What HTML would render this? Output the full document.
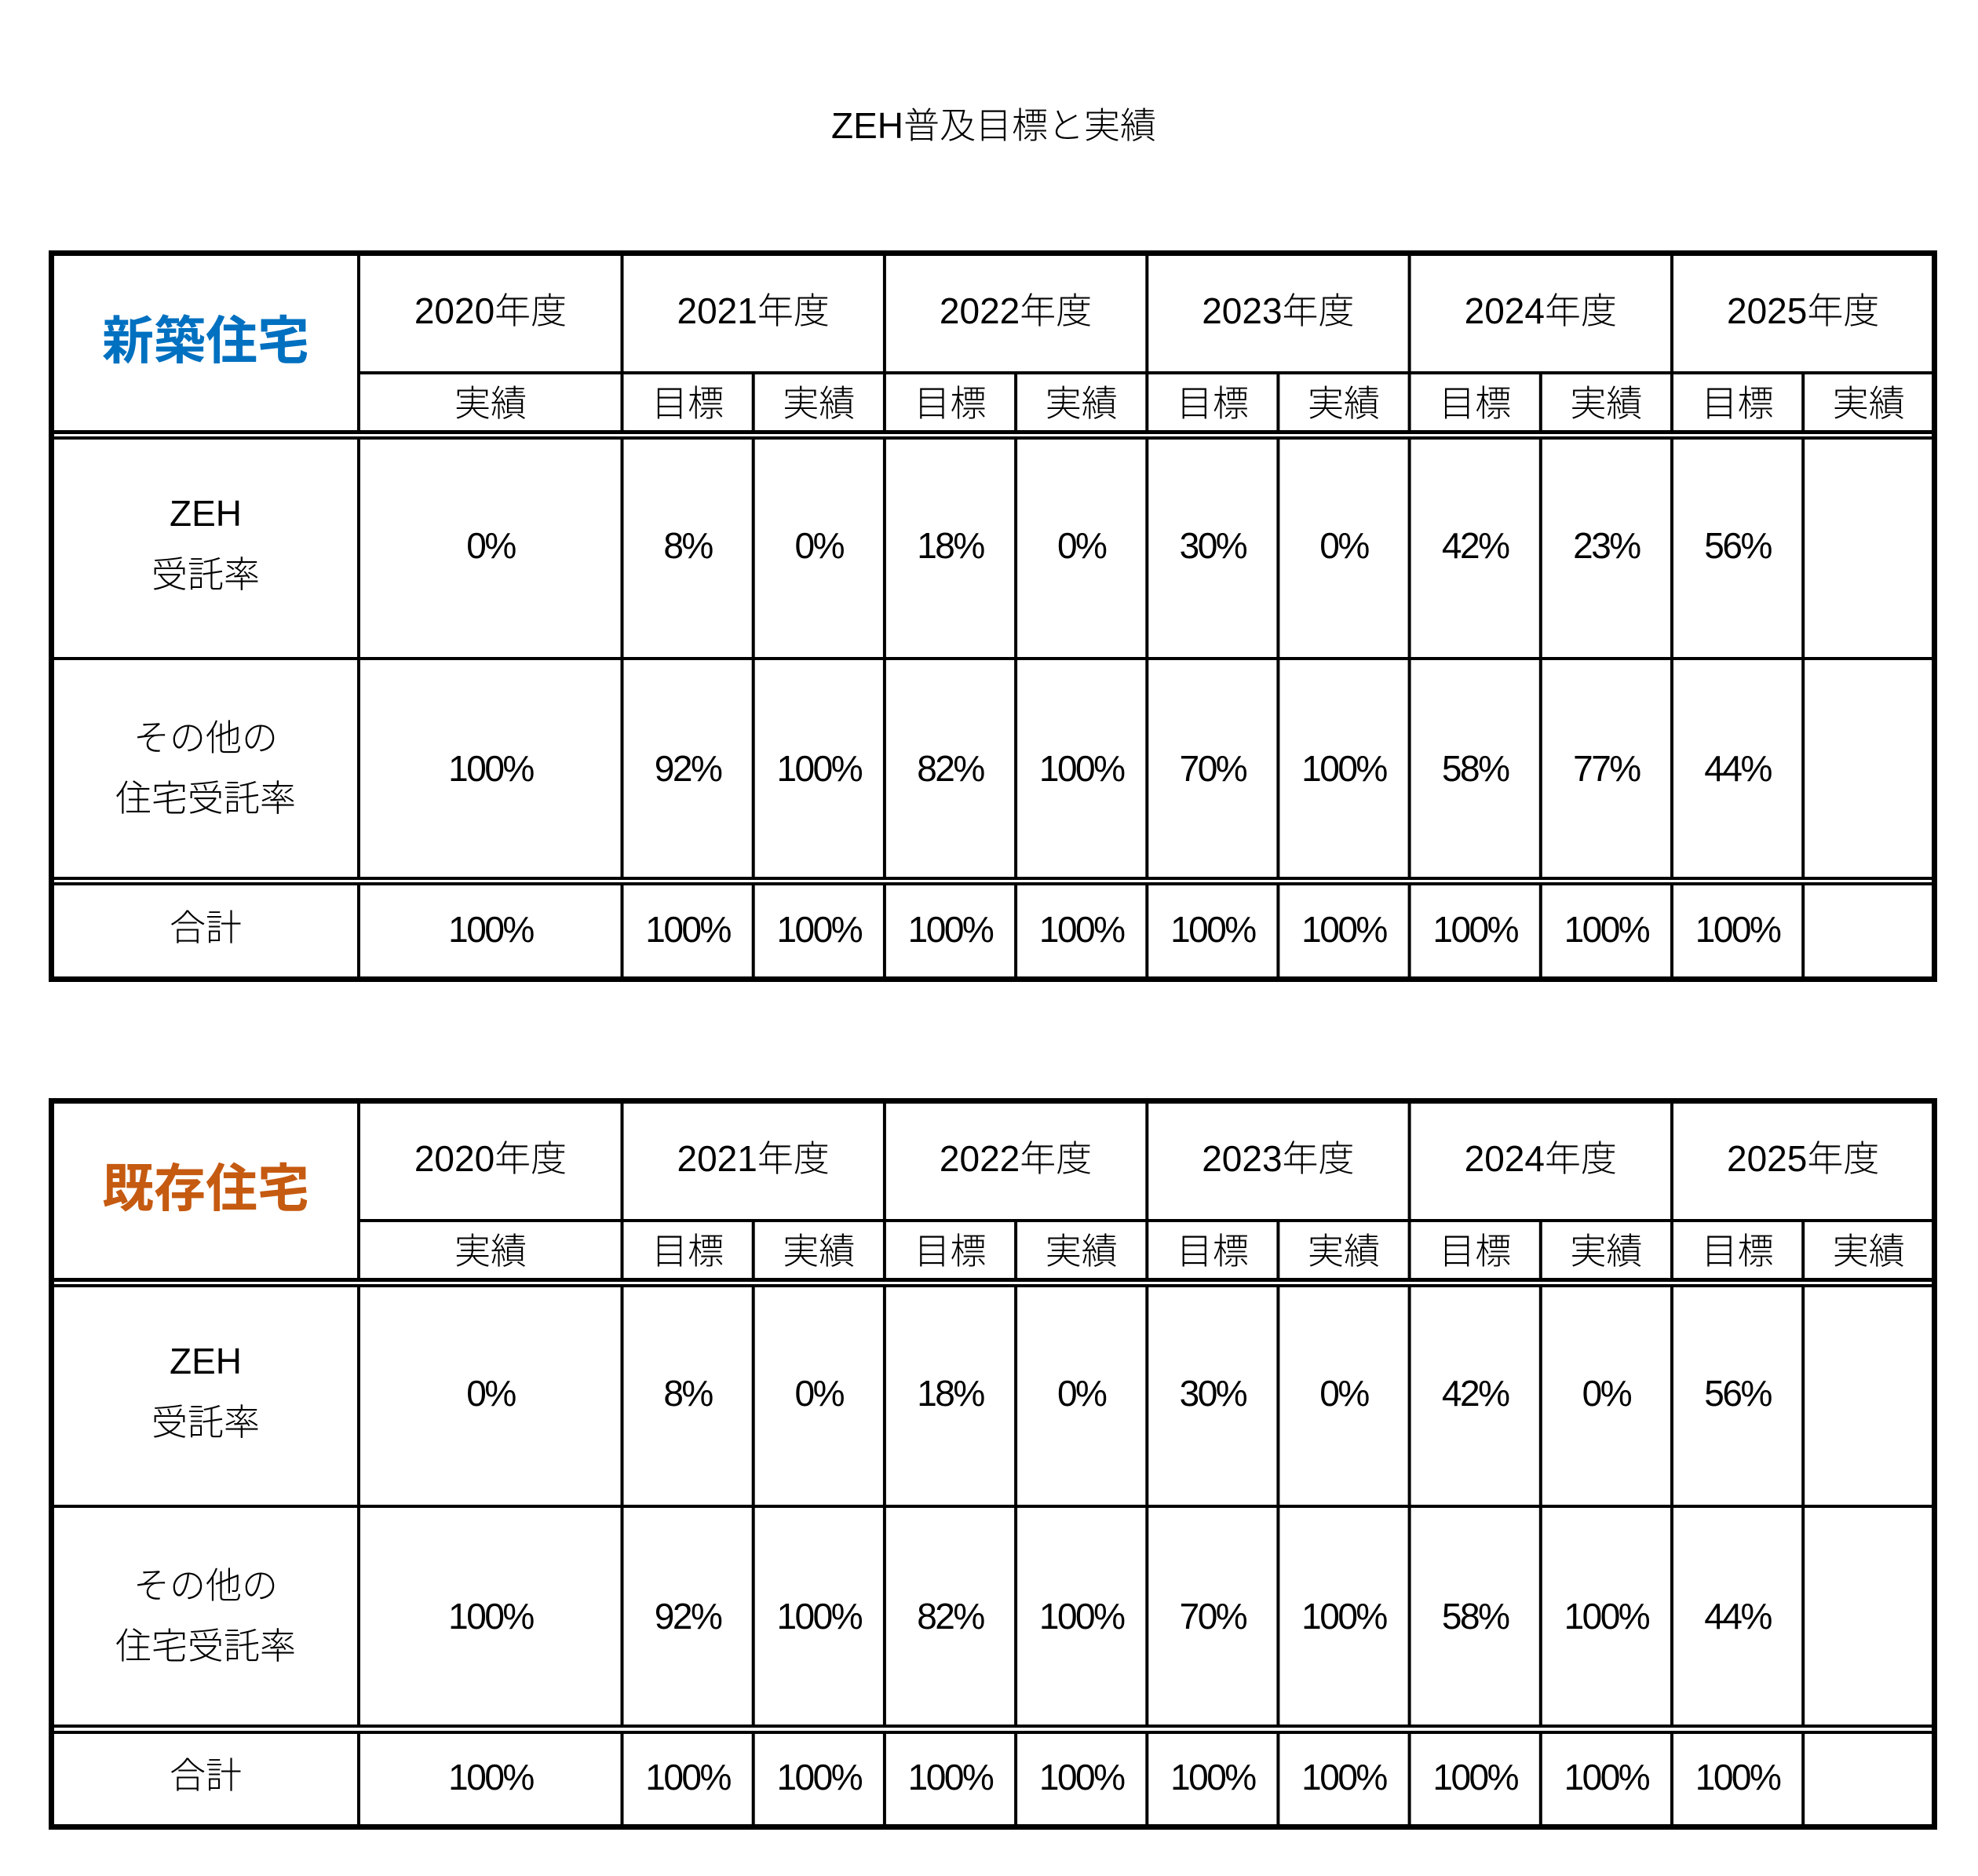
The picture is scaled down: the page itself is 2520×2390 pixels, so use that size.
<!DOCTYPE html>
<html lang="ja">
<head>
<meta charset="utf-8">
<style>
  html,body{margin:0;padding:0;background:#fff;}
  svg{display:block;}
  text{font-family:"Liberation Sans","Noto Sans CJK JP",sans-serif;font-size:46px;font-weight:300;fill:#000;text-anchor:middle;dominant-baseline:central;}
  text.n{letter-spacing:-2.5px;}
  text.h{font-size:66px;font-weight:700;letter-spacing:0;}
</style>
</head>
<body>
<svg width="2520" height="2390" viewBox="0 0 2520 2390" xmlns="http://www.w3.org/2000/svg">
<rect x="0" y="0" width="2520" height="2390" fill="#fff"/>
<text x="1266" y="160">ZEH普及目標と実績</text>

<!-- ===== TABLE 1 ===== -->
<g>
  <g fill="#000">
    <!-- outer frame -->
    <rect x="62" y="319" width="2406" height="7"/>
    <rect x="62" y="1244" width="2406" height="7"/>
    <rect x="62" y="319" width="7" height="932"/>
    <rect x="2461" y="319" width="7" height="932"/>
    <!-- header split -->
    <rect x="457" y="473" width="2004" height="4"/>
    <!-- double line 1 -->
    <rect x="69" y="548" width="2392" height="5"/>
    <rect x="69" y="556" width="2392" height="4"/>
    <!-- row line -->
    <rect x="69" y="837" width="2392" height="4"/>
    <!-- double line 2 -->
    <rect x="69" y="1117" width="2392" height="4"/>
    <rect x="69" y="1124" width="2392" height="4"/>
    <!-- vertical lines header (full header height) -->
    <rect x="455" y="326" width="4" height="222"/>
    <rect x="790.5" y="326" width="4" height="222"/>
    <rect x="1124.9" y="326" width="4" height="222"/>
    <rect x="1459.3" y="326" width="4" height="222"/>
    <rect x="1793.6" y="326" width="4" height="222"/>
    <rect x="2128" y="326" width="4" height="222"/>
    <!-- sub column lines in header -->
    <rect x="957.7" y="477" width="4" height="71"/>
    <rect x="1292.1" y="477" width="4" height="71"/>
    <rect x="1626.4" y="477" width="4" height="71"/>
    <rect x="1960.8" y="477" width="4" height="71"/>
    <rect x="2295.2" y="477" width="4" height="71"/>
    <!-- body vertical lines segment 1 -->
    <rect x="455" y="560" width="4" height="557"/>
    <rect x="790.5" y="560" width="4" height="557"/>
    <rect x="957.7" y="560" width="4" height="557"/>
    <rect x="1124.9" y="560" width="4" height="557"/>
    <rect x="1292.1" y="560" width="4" height="557"/>
    <rect x="1459.3" y="560" width="4" height="557"/>
    <rect x="1626.4" y="560" width="4" height="557"/>
    <rect x="1793.6" y="560" width="4" height="557"/>
    <rect x="1960.8" y="560" width="4" height="557"/>
    <rect x="2128" y="560" width="4" height="557"/>
    <rect x="2295.2" y="560" width="4" height="557"/>
    <!-- body vertical lines segment 2 -->
    <rect x="455" y="1128" width="4" height="116"/>
    <rect x="790.5" y="1128" width="4" height="116"/>
    <rect x="957.7" y="1128" width="4" height="116"/>
    <rect x="1124.9" y="1128" width="4" height="116"/>
    <rect x="1292.1" y="1128" width="4" height="116"/>
    <rect x="1459.3" y="1128" width="4" height="116"/>
    <rect x="1626.4" y="1128" width="4" height="116"/>
    <rect x="1793.6" y="1128" width="4" height="116"/>
    <rect x="1960.8" y="1128" width="4" height="116"/>
    <rect x="2128" y="1128" width="4" height="116"/>
    <rect x="2295.2" y="1128" width="4" height="116"/>
  </g>

  <text class="h" x="262" y="434" style="fill:#0070C0">新築住宅</text>

  <text x="625" y="396">2020年度</text>
  <text x="959.7" y="396">2021年度</text>
  <text x="1294.1" y="396">2022年度</text>
  <text x="1628.4" y="396">2023年度</text>
  <text x="1962.8" y="396">2024年度</text>
  <text x="2297.2" y="396">2025年度</text>

  <text x="625" y="514">実績</text>
  <text x="876.1" y="514">目標</text>
  <text x="1043.3" y="514">実績</text>
  <text x="1210.5" y="514">目標</text>
  <text x="1377.7" y="514">実績</text>
  <text x="1544.9" y="514">目標</text>
  <text x="1712" y="514">実績</text>
  <text x="1879.2" y="514">目標</text>
  <text x="2046.4" y="514">実績</text>
  <text x="2213.6" y="514">目標</text>
  <text x="2380.8" y="514">実績</text>

  <text x="262" y="654">ZEH</text>
  <text x="262" y="732">受託率</text>
  <text x="262" y="940">その他の</text>
  <text x="262" y="1017">住宅受託率</text>
  <text x="262" y="1182">合計</text>

  <text class="n" x="625" y="695">0%</text>
  <text class="n" x="876.1" y="695">8%</text>
  <text class="n" x="1043.3" y="695">0%</text>
  <text class="n" x="1210.5" y="695">18%</text>
  <text class="n" x="1377.7" y="695">0%</text>
  <text class="n" x="1544.9" y="695">30%</text>
  <text class="n" x="1712" y="695">0%</text>
  <text class="n" x="1879.2" y="695">42%</text>
  <text class="n" x="2046.4" y="695">23%</text>
  <text class="n" x="2213.6" y="695">56%</text>

  <text class="n" x="625" y="979">100%</text>
  <text class="n" x="876.1" y="979">92%</text>
  <text class="n" x="1043.3" y="979">100%</text>
  <text class="n" x="1210.5" y="979">82%</text>
  <text class="n" x="1377.7" y="979">100%</text>
  <text class="n" x="1544.9" y="979">70%</text>
  <text class="n" x="1712" y="979">100%</text>
  <text class="n" x="1879.2" y="979">58%</text>
  <text class="n" x="2046.4" y="979">77%</text>
  <text class="n" x="2213.6" y="979">44%</text>

  <text class="n" x="625" y="1184">100%</text>
  <text class="n" x="876.1" y="1184">100%</text>
  <text class="n" x="1043.3" y="1184">100%</text>
  <text class="n" x="1210.5" y="1184">100%</text>
  <text class="n" x="1377.7" y="1184">100%</text>
  <text class="n" x="1544.9" y="1184">100%</text>
  <text class="n" x="1712" y="1184">100%</text>
  <text class="n" x="1879.2" y="1184">100%</text>
  <text class="n" x="2046.4" y="1184">100%</text>
  <text class="n" x="2213.6" y="1184">100%</text>
</g>

<!-- ===== TABLE 2 ===== -->
<g transform="translate(0,1080)">
  <g fill="#000">
    <rect x="62" y="319" width="2406" height="7"/>
    <rect x="62" y="1244" width="2406" height="7"/>
    <rect x="62" y="319" width="7" height="932"/>
    <rect x="2461" y="319" width="7" height="932"/>
    <rect x="457" y="473" width="2004" height="4"/>
    <rect x="69" y="548" width="2392" height="5"/>
    <rect x="69" y="556" width="2392" height="4"/>
    <rect x="69" y="837" width="2392" height="4"/>
    <rect x="69" y="1117" width="2392" height="4"/>
    <rect x="69" y="1125" width="2392" height="4"/>
    <rect x="455" y="326" width="4" height="222"/>
    <rect x="790.5" y="326" width="4" height="222"/>
    <rect x="1124.9" y="326" width="4" height="222"/>
    <rect x="1459.3" y="326" width="4" height="222"/>
    <rect x="1793.6" y="326" width="4" height="222"/>
    <rect x="2128" y="326" width="4" height="222"/>
    <rect x="957.7" y="477" width="4" height="71"/>
    <rect x="1292.1" y="477" width="4" height="71"/>
    <rect x="1626.4" y="477" width="4" height="71"/>
    <rect x="1960.8" y="477" width="4" height="71"/>
    <rect x="2295.2" y="477" width="4" height="71"/>
    <rect x="455" y="560" width="4" height="557"/>
    <rect x="790.5" y="560" width="4" height="557"/>
    <rect x="957.7" y="560" width="4" height="557"/>
    <rect x="1124.9" y="560" width="4" height="557"/>
    <rect x="1292.1" y="560" width="4" height="557"/>
    <rect x="1459.3" y="560" width="4" height="557"/>
    <rect x="1626.4" y="560" width="4" height="557"/>
    <rect x="1793.6" y="560" width="4" height="557"/>
    <rect x="1960.8" y="560" width="4" height="557"/>
    <rect x="2128" y="560" width="4" height="557"/>
    <rect x="2295.2" y="560" width="4" height="557"/>
    <rect x="455" y="1129" width="4" height="115"/>
    <rect x="790.5" y="1129" width="4" height="115"/>
    <rect x="957.7" y="1129" width="4" height="115"/>
    <rect x="1124.9" y="1129" width="4" height="115"/>
    <rect x="1292.1" y="1129" width="4" height="115"/>
    <rect x="1459.3" y="1129" width="4" height="115"/>
    <rect x="1626.4" y="1129" width="4" height="115"/>
    <rect x="1793.6" y="1129" width="4" height="115"/>
    <rect x="1960.8" y="1129" width="4" height="115"/>
    <rect x="2128" y="1129" width="4" height="115"/>
    <rect x="2295.2" y="1129" width="4" height="115"/>
  </g>

  <text class="h" x="262" y="434" style="fill:#C55A11">既存住宅</text>

  <text x="625" y="396">2020年度</text>
  <text x="959.7" y="396">2021年度</text>
  <text x="1294.1" y="396">2022年度</text>
  <text x="1628.4" y="396">2023年度</text>
  <text x="1962.8" y="396">2024年度</text>
  <text x="2297.2" y="396">2025年度</text>

  <text x="625" y="514">実績</text>
  <text x="876.1" y="514">目標</text>
  <text x="1043.3" y="514">実績</text>
  <text x="1210.5" y="514">目標</text>
  <text x="1377.7" y="514">実績</text>
  <text x="1544.9" y="514">目標</text>
  <text x="1712" y="514">実績</text>
  <text x="1879.2" y="514">目標</text>
  <text x="2046.4" y="514">実績</text>
  <text x="2213.6" y="514">目標</text>
  <text x="2380.8" y="514">実績</text>

  <text x="262" y="654">ZEH</text>
  <text x="262" y="732">受託率</text>
  <text x="262" y="940">その他の</text>
  <text x="262" y="1017">住宅受託率</text>
  <text x="262" y="1182">合計</text>

  <text class="n" x="625" y="695">0%</text>
  <text class="n" x="876.1" y="695">8%</text>
  <text class="n" x="1043.3" y="695">0%</text>
  <text class="n" x="1210.5" y="695">18%</text>
  <text class="n" x="1377.7" y="695">0%</text>
  <text class="n" x="1544.9" y="695">30%</text>
  <text class="n" x="1712" y="695">0%</text>
  <text class="n" x="1879.2" y="695">42%</text>
  <text class="n" x="2046.4" y="695">0%</text>
  <text class="n" x="2213.6" y="695">56%</text>

  <text class="n" x="625" y="979">100%</text>
  <text class="n" x="876.1" y="979">92%</text>
  <text class="n" x="1043.3" y="979">100%</text>
  <text class="n" x="1210.5" y="979">82%</text>
  <text class="n" x="1377.7" y="979">100%</text>
  <text class="n" x="1544.9" y="979">70%</text>
  <text class="n" x="1712" y="979">100%</text>
  <text class="n" x="1879.2" y="979">58%</text>
  <text class="n" x="2046.4" y="979">100%</text>
  <text class="n" x="2213.6" y="979">44%</text>

  <text class="n" x="625" y="1184">100%</text>
  <text class="n" x="876.1" y="1184">100%</text>
  <text class="n" x="1043.3" y="1184">100%</text>
  <text class="n" x="1210.5" y="1184">100%</text>
  <text class="n" x="1377.7" y="1184">100%</text>
  <text class="n" x="1544.9" y="1184">100%</text>
  <text class="n" x="1712" y="1184">100%</text>
  <text class="n" x="1879.2" y="1184">100%</text>
  <text class="n" x="2046.4" y="1184">100%</text>
  <text class="n" x="2213.6" y="1184">100%</text>
</g>
</svg>
</body>
</html>
